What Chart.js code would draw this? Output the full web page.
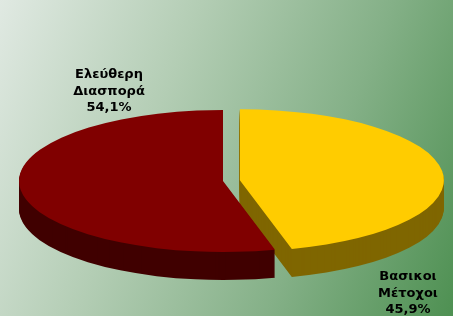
<!DOCTYPE html>
<html lang="el">
<head>
<meta charset="UTF-8" />
<title>Μετοχική σύνθεση</title>
<script src="https://cdn.jsdelivr.net/npm/chart.js"></script>
<style>
  body { margin: 0; }
  #wrap {
    width: 453px;
    height: 316px;
    background: linear-gradient(112deg, #e0e9e2 0%, #b3cdb4 35%, #84b087 68%, #4e9052 100%);
  }
</style>
</head>
<body>
<div id="wrap"><canvas id="pie" width="453" height="316"></canvas></div>
<script>
  // data
  const categories = [["Βασικοι", "Μέτοχοι"], ["Ελεύθερη", "Διασπορά"]];
  const values = [45.9, 54.1];
  const colors = ["#FFCC00", "#800000"];

  // 3d look
  const RADIUS_X = 204, RADIUS_Y = 71, DEPTH = 28;
  const EXPLODED = 0, EXPLODE = 17;
  const LABEL_POS = [[408, 280], [109, 78]];
  const LINE_H = 16.5;

  const pie3d = {
    id: "pie3d",
    beforeDatasetsDraw(chart) {
      const ctx = chart.ctx;
      const arcs = chart.getDatasetMeta(0).data;
      const sx = RADIUS_X / arcs[0].outerRadius;
      const sy = RADIUS_Y / arcs[0].outerRadius;

      const paint = (arc, i, down, filter) => {
        let dx = 0, dy = 0;
        if (i === EXPLODED) {
          const mid = (arc.startAngle + arc.endAngle) / 2;
          dx = Math.cos(mid) * EXPLODE;
          dy = Math.sin(mid) * EXPLODE * RADIUS_Y / RADIUS_X;
        }
        ctx.save();
        ctx.filter = filter;
        ctx.translate(arc.x + dx, arc.y + dy + down);
        ctx.scale(sx, sy);
        ctx.translate(-arc.x, -arc.y);
        arc.draw(ctx);
        ctx.restore();
      };

      // sides first, then the top faces
      for (let d = DEPTH; d > 0; d--) {
        arcs.forEach((a, i) => paint(a, i, d, "brightness(50%)"));
      }
      arcs.forEach((a, i) => paint(a, i, 0, "none"));
      return false;
    },
    afterDraw(chart) {
      const ctx = chart.ctx;
      ctx.save();
      ctx.font = 'bold 13px "DejaVu Sans", Verdana, sans-serif';
      ctx.fillStyle = "#000";
      ctx.textAlign = "center";
      categories.forEach((lines, i) => {
        const [x, y] = LABEL_POS[i];
        const pct = values[i].toFixed(1).replace(".", ",") + "%";
        [...lines, pct].forEach((t, k) => ctx.fillText(t, x, y + k * LINE_H));
      });
      ctx.restore();
    }
  };

  new Chart(document.getElementById("pie"), {
    type: "pie",
    data: {
      labels: categories.map(l => l.join(" ")),
      datasets: [{ data: values, backgroundColor: colors, borderWidth: 0 }]
    },
    options: {
      responsive: false,
      animation: false,
      events: [],
      layout: { padding: { top: 46, right: 7 } },
      plugins: { legend: { display: false }, tooltip: { enabled: false } }
    },
    plugins: [pie3d]
  });
</script>
</body>
</html>
